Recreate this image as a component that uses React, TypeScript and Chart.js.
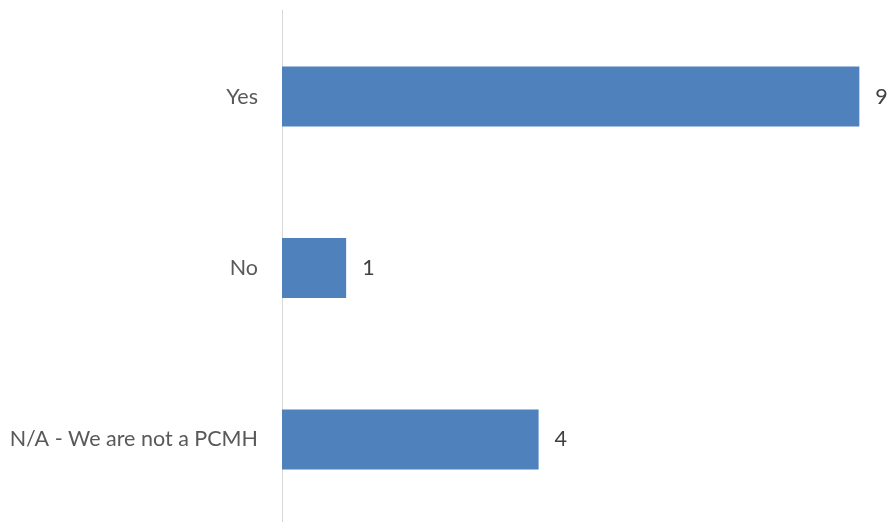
import React, { useEffect, useRef } from "react";
import { Chart, registerables } from "chart.js";

Chart.register(...registerables);

const categories = ["Yes", "No", "N/A - We are not a PCMH"];
const values = [9, 1, 4];

const FONT = "Lato";
const FONT_SIZE = 21.5;

const valueLabels = {
  id: "valueLabels",
  afterDatasetsDraw(chart: any) {
    const ctx = chart.ctx;
    const meta = chart.getDatasetMeta(0);
    ctx.save();
    ctx.font = `${FONT_SIZE}px ${FONT}`;
    ctx.fillStyle = "#404040";
    ctx.textAlign = "left";
    ctx.textBaseline = "middle";
    meta.data.forEach((bar: any, i: number) => {
      ctx.fillText(String(values[i]), bar.x + 16, bar.y);
    });
    ctx.restore();
  },
};

export default function App() {
  const ref = useRef<HTMLCanvasElement>(null);
  useEffect(() => {
    document.body.style.margin = "0";
    document.body.style.overflow = "hidden";
    const chart = new Chart(ref.current!, {
      type: "bar",
      data: {
        labels: categories,
        datasets: [
          {
            data: values,
            backgroundColor: "#4f81bd",
            borderWidth: 0,
            barPercentage: 0.7,
            categoryPercentage: 0.5,
          },
        ],
      },
      options: {
        indexAxis: "y",
        animation: false,
        responsive: false,
        maintainAspectRatio: false,
        layout: { padding: { top: 10, right: 4, bottom: 0, left: 0 } },
        plugins: {
          legend: { display: false },
          tooltip: { enabled: false },
        },
        scales: {
          x: {
            min: 0,
            max: 9.4,
            display: false,
            grid: { display: false },
          },
          y: {
            grid: {
              display: true,
              drawOnChartArea: false,
              drawTicks: true,
              tickLength: 24,
              color: "rgba(0,0,0,0)",
            },
            border: { display: true, color: "#d9d9d9", width: 1 },
            afterFit(scale: any) {
              scale.width = 282;
            },
            ticks: {
              padding: 0,
              color: "#595959",
              font: { family: FONT, size: FONT_SIZE },
            },
          },
        },
      },
      plugins: [valueLabels],
    });
    return () => chart.destroy();
  }, []);
  return (
    <div style={{ position: "absolute", left: 0, top: 0, width: 889, height: 522, overflow: "hidden" }}>
      <canvas ref={ref} width={889} height={540} style={{ display: "block", position: "absolute", left: 0, top: -2 }} />
    </div>
  );
}
